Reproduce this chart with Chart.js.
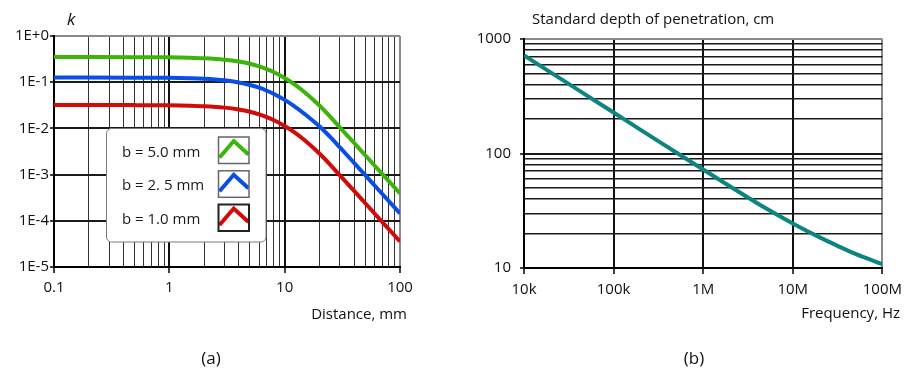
<!DOCTYPE html>
<html>
<head>
<meta charset="utf-8">
<script src="https://cdn.jsdelivr.net/npm/chart.js@4/dist/chart.umd.min.js"></script>
<style>
  html, body { margin: 0; padding: 0; background: #fff; }
  body { width: 909px; height: 378px; position: relative; overflow: hidden; }
  canvas { position: absolute; top: 0; }
  #chartA { left: 0; }
  #chartB { left: 450px; }
</style>
</head>
<body>
<canvas id="chartA" width="450" height="378"></canvas>
<canvas id="chartB" width="459" height="378"></canvas>
<script>
// ---- (a) coupling factor k versus distance, three conductor widths b ----
const distanceMm = [0.1, 0.2, 0.5, 1, 1.5, 2, 3, 4, 5, 6, 7, 8, 10, 12, 15, 20, 25, 30, 40, 50, 70, 100];
const kB50 = [0.35, 0.3498, 0.3487, 0.3448, 0.3385, 0.33, 0.3076, 0.2801, 0.2504, 0.2207, 0.1924, 0.1667,
              0.1237, 0.0918, 0.0597, 0.0313, 0.0176, 0.0106, 0.00484, 0.00262, 0.00104, 0.00039];
const kB25 = [0.126, 0.126, 0.1255, 0.1241, 0.1219, 0.1188, 0.1098, 0.0989, 0.0871, 0.0759, 0.0654, 0.0562,
              0.0414, 0.0308, 0.0203, 0.0111, 0.00639, 0.00392, 0.00179, 0.00097, 0.000385, 0.000145];
const kB10 = [0.032, 0.032, 0.0319, 0.03155, 0.03097, 0.0302, 0.02815, 0.02563, 0.02291, 0.02019, 0.0176, 0.01525,
              0.01132, 0.0084, 0.00546, 0.00286, 0.00161, 0.00097, 0.000443, 0.00024, 0.0000952, 0.0000357];
const seriesLabelsA = ['b = 5.0 mm', 'b = 2. 5 mm', 'b = 1.0 mm'];
const xTickValuesA = [0.1, 1, 10, 100];
const xTickLabelsA = ['0.1', '1', '10', '100'];
const yTickValuesA = [1e-5, 1e-4, 1e-3, 1e-2, 1e-1, 1];
const yTickLabelsA = ['1E-5', '1E-4', '1E-3', '1E-2', '1E-1', '1E+0'];

// ---- (b) standard depth of penetration versus frequency ----
const frequencyHz = [1e4, 2e4, 3e4, 5e4, 1e5, 2e5, 3e5, 5e5, 1e6, 2e6, 3e6, 5e6, 1e7, 2e7, 3e7, 5e7, 1e8];
const depthCm = [720, 509, 416, 322, 228, 161, 131.5, 102, 72.5, 51.5, 42.3, 33.2, 24.5, 18.5, 15.9, 13.3, 10.8];
const xTickValuesB = [1e4, 1e5, 1e6, 1e7, 1e8];
const xTickLabelsB = ['10k', '100k', '1M', '10M', '100M'];
const yTickValuesB = [10, 100, 1000];
const yTickLabelsB = ['10', '100', '1000'];

const FONT = '"Open Sans", "Noto Sans", "DejaVu Sans", sans-serif';
const GREEN = '#3cb40a', BLUE = '#0a4ee6', RED = '#d20a0a', TEAL = '#0c8482';
const FRAME_GREY = '#8a8a8a';

// 1..9 x 10^e grid values between two exponents
function logGrid(lo, hi) {
  const v = [];
  for (let e = lo; e < hi; e++) for (let m = 1; m <= 9; m++) v.push(+(m * Math.pow(10, e)).toPrecision(6));
  v.push(Math.pow(10, hi));
  return v;
}
const isDecade = v => Math.abs(Math.log10(v) - Math.round(Math.log10(v))) < 1e-6;
const same = (a, b) => Math.abs(Math.log10(a) - Math.log10(b)) < 1e-6;
function labelFor(v, values, labels) {
  const i = values.findIndex(t => same(t, v));
  return i < 0 ? '' : labels[i];
}
const tickFont = { family: FONT, size: 15 };
const points = (xs, ys) => xs.map((x, i) => ({ x, y: ys[i] }));

// ---------- panel (a) ----------
const decorA = {
  id: 'decorA',
  afterDatasetsDraw(chart) {
    const ctx = chart.ctx;
    ctx.save();
    // legend frame
    const lx = 106, ly = 128, lw = 159.5, lh = 113.5, r = 5;
    ctx.beginPath();
    ctx.roundRect(lx + 0.5, ly + 0.5, lw, lh, r);
    ctx.fillStyle = '#fff';
    ctx.fill();
    ctx.lineWidth = 1;
    ctx.strokeStyle = '#7a7a7a';
    ctx.stroke();
    const rows = [156.5, 190.3, 224];
    chart.data.datasets.forEach((ds, i) => {
      const base = rows[i];
      ctx.fillStyle = '#1a1a1a';
      ctx.font = '15px ' + FONT;
      ctx.textAlign = 'left';
      ctx.textBaseline = 'alphabetic';
      ctx.fillText(ds.label, 122, base);
      const bx = 218.5, by = base - 19.5, bw = 30.5, bh = 26.5;
      ctx.save();
      ctx.fillStyle = '#fff';
      ctx.fillRect(bx, by, bw, bh);
      ctx.beginPath();
      ctx.rect(bx, by, bw, bh);
      ctx.clip();
      ctx.beginPath();
      ctx.moveTo(bx + 1, by + 20.5);
      ctx.lineTo(bx + bw / 2, by + 4);
      ctx.lineTo(bx + bw - 0.5, by + 17.5);
      ctx.lineWidth = 4;
      ctx.strokeStyle = ds.borderColor;
      ctx.lineJoin = 'miter';
      ctx.stroke();
      ctx.restore();
      ctx.lineWidth = i === 2 ? 2 : 1.5;
      ctx.strokeStyle = i === 2 ? '#222' : '#666';
      ctx.strokeRect(bx, by, bw, bh);
    });
    ctx.restore();
  },
  afterDraw(chart) {
    const ctx = chart.ctx;
    ctx.save();
    ctx.fillStyle = '#111';
    ctx.textBaseline = 'alphabetic';
    ctx.font = 'italic 17px ' + FONT;
    ctx.textAlign = 'left';
    ctx.fillText('k', 67, 25);
    ctx.font = '15px ' + FONT;
    ctx.textAlign = 'right';
    ctx.fillText('Distance, mm', 407, 319);
    ctx.font = '17px ' + FONT;
    ctx.textAlign = 'center';
    ctx.fillText('(a)', 211, 364);
    ctx.restore();
  }
};

new Chart(document.getElementById('chartA'), {
  type: 'line',
  data: {
    datasets: [
      { label: seriesLabelsA[0], data: points(distanceMm, kB50), borderColor: GREEN },
      { label: seriesLabelsA[1], data: points(distanceMm, kB25), borderColor: BLUE },
      { label: seriesLabelsA[2], data: points(distanceMm, kB10), borderColor: RED }
    ]
  },
  options: {
    responsive: false,
    animation: false,
    events: [],
    layout: { padding: { left: 0, top: 36, right: 50, bottom: 78 } },
    plugins: { legend: { display: false }, tooltip: { enabled: false } },
    elements: {
      point: { radius: 0 },
      line: { borderWidth: 4, cubicInterpolationMode: 'monotone', fill: false }
    },
    scales: {
      x: {
        type: 'logarithmic', min: 0.1, max: 100,
        afterBuildTicks: s => { s.ticks = logGrid(-1, 2).map(value => ({ value })); },
        afterFit: s => { s.height = 33; },
        ticks: {
          autoSkip: false, maxRotation: 0, padding: 6, color: '#111', font: tickFont,
          callback: v => labelFor(v, xTickValuesA, xTickLabelsA)
        },
        grid: {
          color: c => same(c.tick.value, 100) ? FRAME_GREY : (isDecade(c.tick.value) ? '#111' : '#333'),
          lineWidth: c => isDecade(c.tick.value) ? 2 : 1,
          tickColor: c => isDecade(c.tick.value) ? '#000' : 'rgba(0,0,0,0)',
          tickLength: 6, tickWidth: 1.5
        },
        border: { display: true, color: '#000', width: 2 }
      },
      y: {
        type: 'logarithmic', min: 1e-5, max: 1,
        afterBuildTicks: s => { s.ticks = yTickValuesA.map(value => ({ value })); },
        afterFit: s => { s.width = 54; },
        ticks: {
          autoSkip: false, padding: 1, color: '#111', font: tickFont,
          callback: v => labelFor(v, yTickValuesA, yTickLabelsA)
        },
        grid: {
          color: c => same(c.tick.value, 1) ? FRAME_GREY : '#1a1a1a',
          lineWidth: 2,
          tickColor: '#000', tickLength: 4, tickWidth: 1.5
        },
        border: { display: true, color: '#000', width: 2 }
      }
    }
  },
  plugins: [decorA]
});

// ---------- panel (b) ----------
const decorB = {
  id: 'decorB',
  afterDraw(chart) {
    const ctx = chart.ctx;
    ctx.save();
    ctx.fillStyle = '#111';
    ctx.textBaseline = 'alphabetic';
    ctx.font = '15px ' + FONT;
    ctx.textAlign = 'left';
    ctx.fillText('Standard depth of penetration, cm', 82, 24);
    ctx.textAlign = 'right';
    ctx.fillText('Frequency, Hz', 450, 318);
    ctx.font = '17px ' + FONT;
    ctx.textAlign = 'center';
    ctx.fillText('(b)', 244, 364);
    ctx.restore();
  }
};

new Chart(document.getElementById('chartB'), {
  type: 'line',
  data: {
    datasets: [
      { label: 'Standard depth of penetration', data: points(frequencyHz, depthCm), borderColor: TEAL }
    ]
  },
  options: {
    responsive: false,
    animation: false,
    events: [],
    layout: { padding: { left: 0, top: 39, right: 19, bottom: 78 } },
    plugins: { legend: { display: false }, tooltip: { enabled: false } },
    elements: {
      point: { radius: 0 },
      line: { borderWidth: 4, cubicInterpolationMode: 'monotone', fill: false }
    },
    scales: {
      x: {
        type: 'logarithmic', min: 1e4, max: 1e8,
        afterBuildTicks: s => { s.ticks = xTickValuesB.map(value => ({ value })); },
        afterFit: s => { s.height = 32; },
        ticks: {
          autoSkip: false, maxRotation: 0, padding: 7, color: '#111', font: tickFont,
          callback: v => labelFor(v, xTickValuesB, xTickLabelsB)
        },
        grid: {
          color: c => same(c.tick.value, 1e8) ? FRAME_GREY : '#111',
          lineWidth: 2,
          tickColor: '#000', tickLength: 6, tickWidth: 1.5
        },
        border: { display: true, color: '#000', width: 2 }
      },
      y: {
        type: 'logarithmic', min: 10, max: 1000,
        afterBuildTicks: s => { s.ticks = logGrid(1, 3).map(value => ({ value })); },
        afterFit: s => { s.width = 74; },
        ticks: {
          autoSkip: false, padding: 9, color: '#111', font: tickFont,
          callback: v => labelFor(v, yTickValuesB, yTickLabelsB)
        },
        grid: {
          color: c => same(c.tick.value, 1000) ? FRAME_GREY : '#1a1a1a',
          lineWidth: c => isDecade(c.tick.value) ? 2 : 1.5,
          tickColor: c => isDecade(c.tick.value) ? '#000' : 'rgba(0,0,0,0)',
          tickLength: 4, tickWidth: 1.5
        },
        border: { display: true, color: '#000', width: 2 }
      }
    }
  },
  plugins: [decorB]
});
</script>
</body>
</html>
